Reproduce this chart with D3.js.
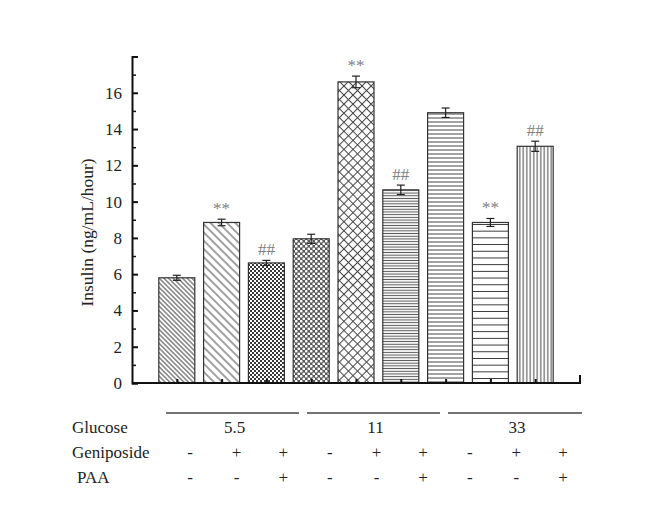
<!DOCTYPE html>
<html><head><meta charset="utf-8">
<script src="https://cdn.jsdelivr.net/npm/d3@7"></script>
<style>body{margin:0;background:#fff}svg{display:block}text{font-family:"Liberation Serif","Times New Roman",serif}</style>
</head><body>
<svg id="c" width="653" height="512"></svg>
<script>
const conditions = ["G5.5","G5.5+Gen","G5.5+Gen+PAA","G11","G11+Gen","G11+Gen+PAA","G33","G33+Gen","G33+Gen+PAA"];
const insulin = [5.8, 8.85, 6.62, 7.95, 16.6, 10.65, 14.9, 8.85, 13.05];
const errors = [0.14, 0.18, 0.14, 0.25, 0.32, 0.26, 0.26, 0.22, 0.28];
const marks = ["", "**", "##", "", "**", "##", "", "**", "##"];
const glucoseGroups = ["5.5", "11", "33"];
const geniposide = ["-","+","+","-","+","+","-","+","+"];
const paa = ["-","-","+","-","-","+","-","-","+"];
const yTicks = [0,2,4,6,8,10,12,14,16];
const yMinor = [1,3,5,7,9,11,13,15,17];
const patterns = ["diagDense","diagSparse","checkDense","checkDots","crossDiag","hDense","hMid","hSparse","vDense"];

const svg = d3.select("#c");
const x = d3.scaleLinear().domain([0, 10]).range([132, 580]);
const y = d3.scaleLinear().domain([0, 18]).range([383, 56.5]);
const barW = 36;
const col = d3.scaleLinear().domain([0, 8]).range([190, 563]);

// patterns
const defs = svg.append("defs");
function linePat(id, sp, angle, sw, color){
  const p = defs.append("pattern").attr("id", id).attr("patternUnits","userSpaceOnUse")
    .attr("width", sp).attr("height", sp);
  if (angle) p.attr("patternTransform", `rotate(${angle})`);
  p.append("rect").attr("width", sp).attr("height", sp).attr("fill", "#fff");
  p.append("line").attr("x1",0).attr("x2",sp).attr("y1",sp/2).attr("y2",sp/2)
    .attr("stroke", color).attr("stroke-width", sw);
}
linePat("diagDense", 3.3, 45, 1, "#444");
linePat("diagSparse", 5.8, 45, 1, "#444");
linePat("hDense", 2.7, 0, 1, "#555");
linePat("hMid", 4, 0, 1, "#444");
linePat("hSparse", 6.7, 0, 1, "#333");
linePat("vDense", 3.5, 90, 1, "#444");
{
  const p = defs.append("pattern").attr("id","checkDense").attr("patternUnits","userSpaceOnUse").attr("width",4).attr("height",4);
  p.append("rect").attr("width",4).attr("height",4).attr("fill","#fff");
  p.append("rect").attr("width",2).attr("height",2).attr("fill","#3a3a3a");
  p.append("rect").attr("x",2).attr("y",2).attr("width",2).attr("height",2).attr("fill","#3a3a3a");
}
{
  const p = defs.append("pattern").attr("id","checkDots").attr("patternUnits","userSpaceOnUse").attr("width",5).attr("height",5);
  p.append("rect").attr("width",5).attr("height",5).attr("fill","#5a5a5a");
  p.append("circle").attr("cx",1.25).attr("cy",1.25).attr("r",1.35).attr("fill","#fff");
  p.append("circle").attr("cx",3.75).attr("cy",3.75).attr("r",1.35).attr("fill","#fff");
}
{
  const sp = 6.4;
  const p = defs.append("pattern").attr("id","crossDiag").attr("patternUnits","userSpaceOnUse")
    .attr("width",sp).attr("height",sp).attr("patternTransform","rotate(45)");
  p.append("rect").attr("width",sp).attr("height",sp).attr("fill","#fff");
  p.append("line").attr("x1",0).attr("x2",sp).attr("y1",sp/2).attr("y2",sp/2).attr("stroke","#444").attr("stroke-width",1);
  p.append("line").attr("y1",0).attr("y2",sp).attr("x1",sp/2).attr("x2",sp/2).attr("stroke","#444").attr("stroke-width",1);
}

// bars
const g = svg.append("g");
insulin.forEach((v, i) => {
  const cx = x(i + 1);
  g.append("rect").attr("x", cx - barW/2).attr("y", y(v)).attr("width", barW).attr("height", y(0) - y(v))
    .attr("fill", `url(#${patterns[i]})`).attr("stroke", "#333").attr("stroke-width", 1.2);
  const e = errors[i];
  const eb = g.append("g").attr("stroke", "#222").attr("stroke-width", 1.2);
  eb.append("line").attr("x1", cx).attr("x2", cx).attr("y1", y(v + e)).attr("y2", y(v - e));
  eb.append("line").attr("x1", cx - 4).attr("x2", cx + 4).attr("y1", y(v + e)).attr("y2", y(v + e));
  eb.append("line").attr("x1", cx - 4).attr("x2", cx + 4).attr("y1", y(v - e)).attr("y2", y(v - e));
  if (marks[i]) {
    g.append("text").attr("x", cx).attr("y", y(v + e) - 5).attr("text-anchor", "middle")
      .attr("font-size", 17).attr("fill", "#808080").text(marks[i]);
  }
});

// y axis
const yAxis = d3.axisLeft(y).tickValues(yTicks).tickSize(-6).tickPadding(10).tickFormat(d3.format("d"));
const ya = svg.append("g").attr("transform", `translate(${x(0)},0)`).call(yAxis);
ya.select(".domain").attr("stroke", "#111").attr("stroke-width", 2);
ya.selectAll(".tick line").attr("stroke", "#111").attr("stroke-width", 2);
ya.selectAll(".tick text").attr("font-size", 17).attr("fill", "#222").attr("font-family", '"Liberation Serif",serif');
const yMinorAxis = d3.axisLeft(y).tickValues(yMinor).tickSize(-4).tickFormat("");
const ym = svg.append("g").attr("transform", `translate(${x(0)},0)`).call(yMinorAxis);
ym.select(".domain").remove();
ym.selectAll(".tick line").attr("stroke", "#111").attr("stroke-width", 1.5);

// x axis
const xa = svg.append("g").attr("transform", `translate(0,${y(0)})`)
  .call(d3.axisBottom(x).tickValues(d3.range(1, 10)).tickSize(-4).tickFormat(""));
xa.select(".domain").attr("d", `M${x(0)},0H${x(10)}V-8`).attr("stroke", "#111").attr("stroke-width", 2).attr("fill","none");
xa.selectAll(".tick line").attr("stroke", "#111").attr("stroke-width", 2);

// y label
svg.append("text").attr("transform", `translate(93,${y(8.3)}) rotate(-90)`).attr("text-anchor", "middle")
  .attr("font-size", 17.5).attr("fill", "#222").text("Insulin (ng/mL/hour)");

// table below
const rowG = 433, rowGen = 458, rowP = 483;
svg.append("text").attr("x", 72).attr("y", rowG).attr("font-size", 17).attr("fill", "#222").text("Glucose");
svg.append("text").attr("x", 72).attr("y", rowGen).attr("font-size", 17).attr("fill", "#222").text("Geniposide");
svg.append("text").attr("x", 77).attr("y", rowP).attr("font-size", 17).attr("fill", "#222").text("PAA");
const groupLines = [[166, 299], [307, 440], [448, 582]];
glucoseGroups.forEach((lab, k) => {
  const [a, b] = groupLines[k];
  svg.append("line").attr("x1", a).attr("x2", b).attr("y1", 413).attr("y2", 413).attr("stroke", "#444").attr("stroke-width", 1.3);
  svg.append("text").attr("x", (a + b) / 2 + 2).attr("y", rowG).attr("text-anchor", "middle").attr("font-size", 17).attr("fill", "#222").text(lab);
});
geniposide.forEach((s, i) => {
  svg.append("text").attr("x", col(i)).attr("y", rowGen).attr("text-anchor", "middle").attr("font-size", 17).attr("fill", "#222").text(s);
});
paa.forEach((s, i) => {
  svg.append("text").attr("x", col(i)).attr("y", rowP).attr("text-anchor", "middle").attr("font-size", 17).attr("fill", "#222").text(s);
});
</script>
</body></html>
